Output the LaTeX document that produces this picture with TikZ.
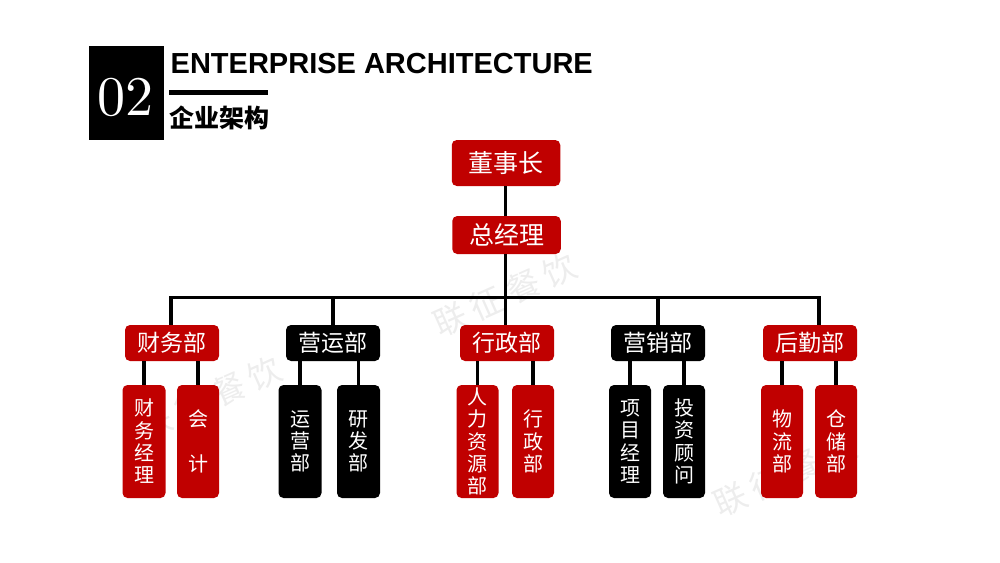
\documentclass[tikz,border=0pt]{standalone}
\usepackage{fontspec}
\newfontfamily\cjk{Noto Sans CJK SC}
\newfontfamily\enfont{Liberation Sans}
\newfontfamily\numfont[Extension=.otf]{lmroman10-regular}
\definecolor{cred}{HTML}{C00000}
\tikzset{
  box/.style={rounded corners=5pt,inner sep=0pt,text=white,align=center,font=\cjk\fontsize{20}{22.3}\selectfont},
  top/.style={box,fill=cred,minimum width=108.5pt,font=\cjk\fontsize{25}{28}\selectfont},
  dept/.style={box,minimum width=94pt,minimum height=36pt,font=\cjk\fontsize{23}{26}\selectfont},
  leaf/.style={box,minimum width=43pt,minimum height=113pt},
  redfill/.style={fill=cred},
  blackfill/.style={fill=black},
  conn/.style={draw=black,line width=3.4pt},
  wmark/.style={text=black!7,rotate=24,font=\cjk\fontsize{33}{36}\selectfont,inner sep=0pt}
}
\begin{document}
\begin{tikzpicture}[x=1pt,y=-1pt]
\useasboundingbox (0,0) rectangle (1000,562);
% watermark
\node[wmark] (w1) at (505,295) {联\hspace{7pt}征\hspace{7pt}餐\hspace{7pt}饮};
\node[wmark] (w2) at (210,398) {联\hspace{7pt}征\hspace{7pt}餐\hspace{7pt}饮};
\node[wmark] (w3) at (785,475) {联\hspace{7pt}征\hspace{7pt}餐\hspace{7pt}饮};
% header
\node[fill=black,minimum width=75pt,minimum height=94pt,inner sep=0pt] (badge) at (126.5,93) {};
\node[text=white,inner sep=0pt,anchor=base,font=\numfont\fontsize{56}{60}\selectfont] (num) at (125,115) {02};
\node[anchor=base west,inner sep=0pt,font=\enfont\bfseries\fontsize{29}{30}\selectfont] (en) at (170.5,73) {ENTERPRISE ARCHITECTURE};
\node[fill=black,minimum width=99pt,minimum height=5pt,inner sep=0pt] (rule) at (218.5,92.5) {};
\node[anchor=west,inner sep=0pt,font=\cjk\bfseries\fontsize{25}{26}\selectfont] (cn) at (169,118) {企业架构};
% top
\node[top,minimum height=46pt] (chair) at (506,163) {董事长};
\node[top,minimum height=38pt] (gm) at (506.5,235) {总经理};
% depts
\node[dept,redfill] (d1) at (172,343) {财务部};
\node[dept,blackfill] (d2) at (333,343) {营运部};
\node[dept,redfill] (d3) at (507,343) {行政部};
\node[dept,blackfill] (d4) at (658,343) {营销部};
\node[dept,redfill] (d5) at (810,343) {后勤部};
% leaves
\node[leaf,redfill] (l1) at (144,441.5) {财\\务\\经\\理};
\node[leaf,redfill,minimum width=42pt] (l2) at (198,441.5) {会\\[22.3pt]计};
\node[leaf,blackfill] (l3) at (300,441.5) {运\\营\\部};
\node[leaf,blackfill] (l4) at (358.5,441.5) {研\\发\\部};
\node[leaf,redfill,minimum width=42pt] (l5) at (477.5,441.5) {人\\力\\资\\源\\部};
\node[leaf,redfill,minimum width=42pt] (l6) at (533,441.5) {行\\政\\部};
\node[leaf,blackfill,minimum width=42pt] (l7) at (630,441.5) {项\\目\\经\\理};
\node[leaf,blackfill,minimum width=42pt] (l8) at (684,441.5) {投\\资\\顾\\问};
\node[leaf,redfill,minimum width=42pt] (l9) at (782,441.5) {物\\流\\部};
\node[leaf,redfill,minimum width=42pt] (l10) at (836,441.5) {仓\\储\\部};
% connectors
\coordinate (busL) at (171,297.5);
\coordinate (busR) at (819,297.5);
\coordinate (busM) at (505.5,297.5);
\draw[conn] (chair.south -| busM) -- (gm.north -| busM);
\draw[conn] (gm.south -| busM) -- (d3.north -| busM);
\draw[conn,line join=miter] (d1.north -| busL) -- (busL) -- (busR) -- (d5.north -| busR);
\draw[conn] (d2.north) -- (d2.north |- busL);
\draw[conn] (d4.north) -- (d4.north |- busL);
\foreach \l/\d in {l1/d1,l2/d1,l3/d2,l4/d2,l5/d3,l6/d3,l7/d4,l8/d4,l9/d5,l10/d5}
  \draw[conn] (\l.north) -- (\l.north |- \d.south);
\end{tikzpicture}
\end{document}
